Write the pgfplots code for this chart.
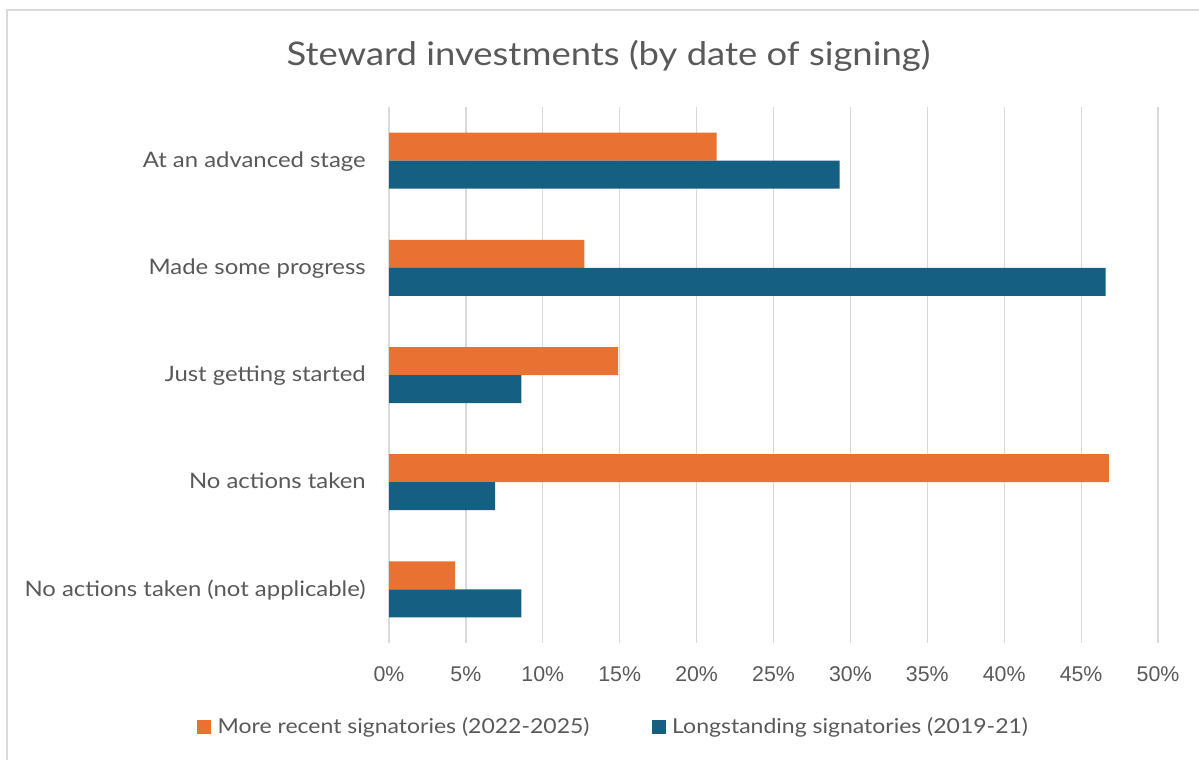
\documentclass[border=0pt]{standalone}
\usepackage{pgfplots}
\pgfplotsset{compat=1.18}
\usepackage{fontspec}
\setmainfont{Lato}[FakeStretch=1.12]
\newfontfamily\arialf{Liberation Sans}
\definecolor{txt}{HTML}{595959}
\definecolor{grd}{HTML}{D9D9D9}
\definecolor{orng}{HTML}{E97132}
\definecolor{blu}{HTML}{156082}
\begin{document}
\begin{tikzpicture}[x=0.75pt,y=0.75pt]
\path[use as bounding box] (0,0) rectangle (1199,760);
\draw[grd, line width=1.5pt] (7,0) -- (7,750) -- (1199,750);
\node[anchor=base, text=txt, font=\fontsize{24.4}{28}\selectfont, inner sep=0pt] at (608.5,694) {Steward investments (by date of signing)};
\begin{axis}[
 at={(291.75pt,87.75pt)}, anchor=south west, scale only axis,
 width=576.75pt, height=402pt,
 xmin=0, xmax=50, ymin=-0.5, ymax=4.5,
 xtick={0,5,...,50}, ytick={0,1,2,3,4},
 xticklabels={0\%,5\%,10\%,15\%,20\%,25\%,30\%,35\%,40\%,45\%,50\%},
 yticklabels={No actions taken (not applicable), No actions taken, Just getting started, Made some progress, At an advanced stage},
 axis line style={draw=none},
 major tick length=0pt,
 xmajorgrids, grid style={grd, line width=0.9pt},
 xticklabel style={font=\arialf\fontsize{16}{18}\selectfont, text=txt, anchor=base, yshift=-28.5pt, inner sep=0pt},
 yticklabel style={font=\fontsize{16}{18}\selectfont, text=txt, anchor=base east, xshift=-17.25pt, yshift=-5pt, inner sep=0pt},
 legend columns=2, legend cell align=left,
 legend image code/.code={\fill[#1] (0pt,-5.25pt) rectangle (10.5pt,5.25pt);},
 legend style={at={(-0.2497,-0.1567)}, anchor=west, draw=none, fill=none, inner sep=0pt, outer sep=0pt,
   nodes={inner sep=0pt, text=txt, font=\fontsize{15.4}{18}\selectfont},
   /tikz/every odd column/.style={column sep=5pt},
   /tikz/every even column/.style={column sep=46.5pt}},
]
\addplot[xbar, bar width=21pt, bar shift=10.5pt, fill=orng, draw=none] coordinates {(4.3,0) (46.8,1) (14.9,2) (12.7,3) (21.3,4)};
\addlegendentry{More recent signatories (2022-2025)}
\addplot[xbar, bar width=21pt, bar shift=-10.5pt, fill=blu, draw=none] coordinates {(8.6,0) (6.9,1) (8.6,2) (46.6,3) (29.3,4)};
\addlegendentry{Longstanding signatories (2019-21)}
\end{axis}
\end{tikzpicture}
\end{document}
